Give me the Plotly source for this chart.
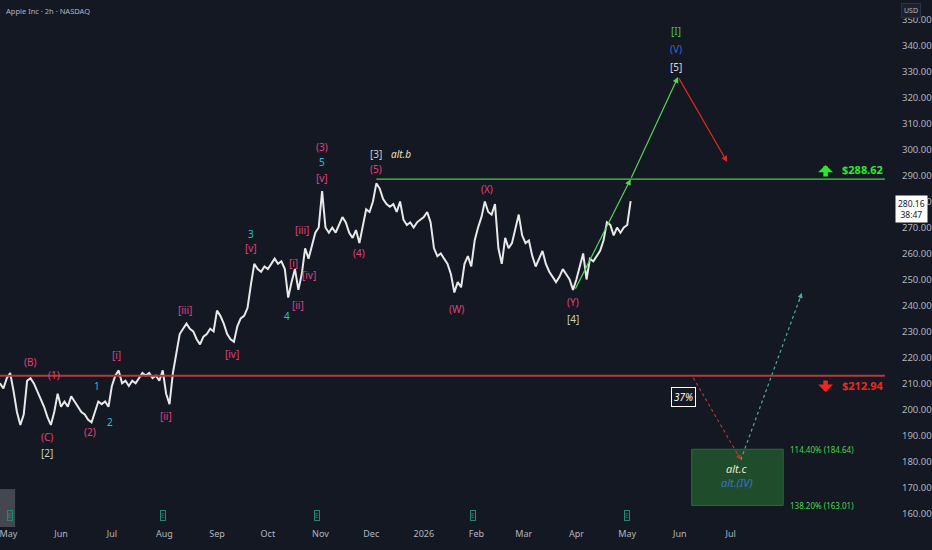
import pandas as pd
import plotly.graph_objects as go

start = "2025-04-26"
close = [210, 208, 212, 214, 207, 199, 194, 198, 211, 212,
         210, 207, 204, 201, 197, 194, 199, 206, 201, 203,
         201, 205, 203, 201, 199, 198, 196, 195, 199, 203,
         202, 203, 201, 209, 213, 215, 210, 211, 209, 211,
         210, 212, 214, 213, 214, 212, 213, 211, 215, 206,
         202, 214, 222, 229, 231, 233, 231, 230, 227, 225,
         228, 229, 231, 230, 238, 236, 233, 229, 227, 226,
         232, 235, 236, 239, 248, 256, 254, 253, 255, 254,
         256, 258, 256, 257, 254, 243, 249, 254, 246, 252,
         262, 258, 263, 268, 270, 284, 270, 268, 270, 268,
         271, 274, 272, 268, 266, 269, 264, 271, 277, 276,
         280, 287, 285, 281, 279, 278, 279, 276, 280, 273,
         271, 272, 270, 272, 273, 274, 276, 272, 262, 259,
         260, 258, 256, 252, 245, 249, 247, 256, 259, 255,
         265, 270, 274, 280, 276, 275, 279, 262, 256, 266,
         262, 264, 270, 275, 267, 264, 265, 259, 255, 258,
         261, 256, 253, 251, 249, 251, 254, 252, 250, 246,
         250, 255, 260, 250, 258, 257, 259, 261, 265, 272,
         271, 267, 270, 268, 270, 271, 280.16]
dates = pd.date_range(start, periods=len(close), freq="2D")

last_price = 280.16
countdown = "38:47"
level_up = 288.62
level_down = 212.94
fib_hi = 184.64
fib_lo = 163.01

# Wellen-Labels: (datum, preis, text, farbe)
PINK = "#e0407a"
TEAL = "#2bbfcf"
GREY = "#c9cfc4"
waves = [
    ("2025-05-14", 218.3, "(B)", PINK),
    ("2025-05-28", 213.3, "(1)", PINK),
    ("2025-05-24", 189.4, "(C)", PINK),
    ("2025-05-24", 183.2, "[2]", GREY),
    ("2025-06-22", 209.0, "1", TEAL),
    ("2025-06-30", 195.2, "2", TEAL),
    ("2025-06-18", 191.3, "(2)", PINK),
    ("2025-07-04", 221.0, "[i]", PINK),
    ("2025-08-02", 197.5, "[ii]", PINK),
    ("2025-08-13", 238.3, "[iii]", PINK),
    ("2025-09-10", 221.3, "[iv]", PINK),
    ("2025-09-21", 267.5, "3", TEAL),
    ("2025-09-21", 262.1, "[v]", PINK),
    ("2025-10-12", 236.0, "4", TEAL),
    ("2025-10-16", 256.4, "[i]", PINK),
    ("2025-10-19", 240.2, "[ii]", PINK),
    ("2025-10-21", 269.1, "[iii]", PINK),
    ("2025-10-25", 251.7, "[iv]", PINK),
    ("2025-11-02", 301.0, "(3)", PINK),
    ("2025-11-02", 295.2, "5", TEAL),
    ("2025-11-02", 289.1, "[v]", PINK),
    ("2025-11-24", 260.2, "(4)", PINK),
    ("2025-12-04", 298.3, "[3]", GREY),
    ("2025-12-04", 292.5, "(5)", PINK),
    ("2026-01-20", 238.6, "(W)", PINK),
    ("2026-02-07", 284.8, "(X)", PINK),
    ("2026-03-30", 241.3, "(Y)", PINK),
    ("2026-03-30", 234.8, "[4]", GREY),
    ("2026-05-30", 345.7, "[I]", "#4cc44c"),
    ("2026-05-30", 338.7, "(V)", "#3a66d6"),
    ("2026-05-30", 331.8, "[5]", "#d8d8d8"),
]

# Prognosepfade
path_up = [("2026-03-31", 245.9), ("2026-05-03", level_up), ("2026-05-31", 328.0)]
path_red = [("2026-05-31", 328.0), ("2026-06-29", 295.2)]
path_alt_down = [("2026-06-09", 212.1), ("2026-07-07", 180.6)]
path_alt_up = [("2026-07-07", 180.6), ("2026-08-12", 244.8)]

months = ["2025-05-01", "2025-06-01", "2025-07-01", "2025-08-01", "2025-09-01",
          "2025-10-01", "2025-11-01", "2025-12-01", "2026-01-01", "2026-02-01",
          "2026-03-01", "2026-04-01", "2026-05-01", "2026-06-01", "2026-07-01"]
month_txt = ["May", "Jun", "Jul", "Aug", "Sep", "Oct", "Nov", "Dec", "2026",
             "Feb", "Mar", "Apr", "May", "Jun", "Jul"]
earnings = ["2025-05-02", "2025-07-31", "2025-10-30", "2026-01-30", "2026-05-01"]

BG = "#141823"
TXT = "#b2b5be"
FONT = "Noto Sans"

fig = go.Figure()

fig.add_trace(go.Scatter(x=dates, y=close, mode="lines",
                         line=dict(color="#e8e8e8", width=2), hoverinfo="skip"))

# gepunktete Alternativpfade
fig.add_trace(go.Scatter(x=[p[0] for p in path_alt_down], y=[p[1] for p in path_alt_down],
                         mode="lines", line=dict(color="#b33535", width=1.2, dash="dot")))
fig.add_trace(go.Scatter(x=[p[0] for p in path_alt_up], y=[p[1] for p in path_alt_up],
                         mode="lines", line=dict(color="#4fa8a8", width=1.2, dash="dot")))

x_end = "2026-09-30"
fig.add_shape(type="line", x0="2025-04-20", x1=x_end, y0=level_down, y1=level_down,
              line=dict(color="#b33a3a", width=2))
fig.add_shape(type="line", x0="2025-12-04", x1=x_end, y0=level_up, y1=level_up,
              line=dict(color="#45d045", width=1.2))
# alt.c Zielzone
fig.add_shape(type="rect", x0="2026-06-08", x1="2026-08-01", y0=fib_lo, y1=fib_hi,
              fillcolor="#1f4d2b", line=dict(color="#2c6b39", width=1), layer="below")
# kleines Feld unten links
fig.add_shape(type="rect", xref="paper", yref="paper", x0=0, x1=0.017, y0=0, y1=0.072,
              fillcolor="#44474f", line=dict(width=0))

ann = []
for d, p, t, c in waves:
    ann.append(dict(x=d, y=p, text=t, showarrow=False,
                    font=dict(color=c, size=10, family=FONT)))
ann.append(dict(x="2025-12-16", y=298.3, text="<i>alt.b</i>", showarrow=False,
                xanchor="left", xshift=-8, font=dict(color="#e6e2b8", size=10, family=FONT)))

# Pfeile der Hauptprognose
for (a, b), col in [((path_up[0], path_up[1]), "#55d455"), ((path_up[1], path_up[2]), "#55d455"),
                    ((path_red[0], path_red[1]), "#e0281e")]:
    ann.append(dict(x=b[0], y=b[1], ax=a[0], ay=a[1], axref="x", ayref="y",
                    showarrow=True, arrowhead=2, arrowsize=1, arrowwidth=1.2,
                    arrowcolor=col, text=""))
# Pfeilspitzen der gepunkteten Linien
ann.append(dict(x=path_alt_up[1][0], y=path_alt_up[1][1], ax=-3.4, ay=9.4,
                showarrow=True, arrowhead=2, arrowsize=1, arrowwidth=1,
                arrowcolor="#4fa8a8", text=""))
ann.append(dict(x=path_alt_down[1][0], y=path_alt_down[1][1], ax=-5, ay=-8.5,
                showarrow=True, arrowhead=2, arrowsize=1, arrowwidth=1,
                arrowcolor="#b33535", text=""))

# Kursmarken
ann.append(dict(x="2026-08-26", y=294.1, ax=0, ay=13, showarrow=True, arrowhead=1,
                arrowsize=0.55, arrowwidth=4.5, arrowcolor="#2ee62e", text=""))
ann.append(dict(x="2026-09-17", y=292.3, text="<b>$%.2f</b>" % level_up, showarrow=False,
                font=dict(color="#2ee62e", size=11, family=FONT)))
ann.append(dict(x="2026-08-26", y=206.7, ax=0, ay=-13, showarrow=True, arrowhead=1,
                arrowsize=0.55, arrowwidth=4.5, arrowcolor="#f0261c", text=""))
ann.append(dict(x="2026-09-17", y=209.0, text="<b>$%.2f</b>" % level_down, showarrow=False,
                font=dict(color="#f0261c", size=11, family=FONT)))

ann.append(dict(x="2026-06-03", y=204.8, text="<i>37%</i>", showarrow=False,
                bordercolor="#ffffff", borderwidth=1, borderpad=2,
                font=dict(color="#ffffff", size=10, family=FONT)))
ann.append(dict(x="2026-07-05", y=177.1, text="<i>alt.c</i>", showarrow=False,
                font=dict(color="#e8e6c8", size=11, family=FONT)))
ann.append(dict(x="2026-07-05", y=171.7, text="<i>alt.(IV)</i>", showarrow=False,
                font=dict(color="#3a6fd0", size=11, family=FONT)))
ann.append(dict(x="2026-08-04", y=fib_hi, text="114.40%% (%.2f)" % fib_hi, showarrow=False,
                xanchor="left", font=dict(color="#4cd44c", size=8, family=FONT)))
ann.append(dict(x="2026-08-04", y=fib_lo, text="138.20%% (%.2f)" % fib_lo, showarrow=False,
                xanchor="left", font=dict(color="#4cd44c", size=8, family=FONT)))

for d in earnings:
    ann.append(dict(x=d, y=0.012, yref="paper", yanchor="bottom", text="E", showarrow=False,
                    bordercolor="#1f8a70", borderwidth=1, borderpad=0,
                    font=dict(color="#1f8a70", size=7, family=FONT)))

ann.append(dict(xref="paper", yref="paper", x=0.004, y=0.992, xanchor="left", yanchor="top",
                text="Apple Inc · 2h · NASDAQ", showarrow=False,
                font=dict(color=TXT, size=7.5, family=FONT)))
ann.append(dict(xref="paper", yref="paper", x=1.024, y=0.995, xanchor="center", yanchor="top",
                text="USD", showarrow=False, bgcolor="#1c2030", bordercolor="#2e3240",
                borderwidth=1, borderpad=2, font=dict(color=TXT, size=7, family=FONT)))
ann.append(dict(xref="paper", x=1.024, xanchor="center", y=last_price, yshift=-8,
                text="%.2f<br>%s" % (last_price, countdown), showarrow=False,
                bgcolor="#ffffff", borderpad=2,
                font=dict(color="#131722", size=8.5, family=FONT)))

fig.update_layout(
    width=932, height=550,
    paper_bgcolor=BG, plot_bgcolor=BG,
    margin=dict(l=0, r=39, t=0, b=23),
    showlegend=False,
    annotations=ann,
    xaxis=dict(type="date", range=["2025-04-26", "2026-10-03"],
               tickvals=months, ticktext=month_txt, showgrid=False, zeroline=False,
               showline=False, ticks="", ticklabeloverflow="allow",
               tickfont=dict(color=TXT, size=9, family=FONT)),
    yaxis=dict(side="right", range=[154.7, 357.6], dtick=10, tick0=0, tickformat=".2f",
               showgrid=False, zeroline=False, showline=False, ticks="",
               ticklabelstandoff=11, tickfont=dict(color=TXT, size=9.5, family=FONT)),
)

fig.write_html("out.html", config={"displayModeBar": False},
               post_script="document.body.style.margin='0';")
